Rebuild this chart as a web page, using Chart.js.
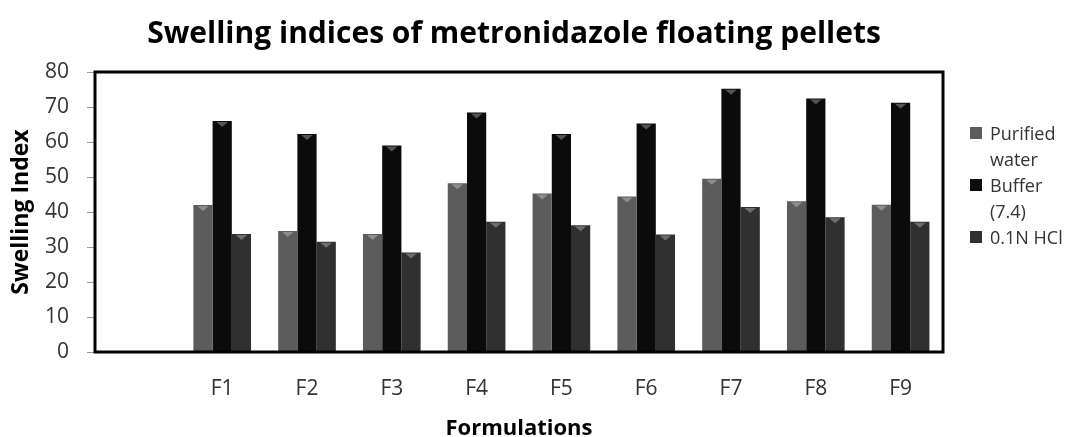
<!DOCTYPE html>
<html>
<head>
<meta charset="utf-8">
<script src="https://cdn.jsdelivr.net/npm/chart.js@4.4.0/dist/chart.umd.min.js"></script>
<style>
  html, body { margin: 0; padding: 0; background: #fff; }
  #wrap { position: relative; width: 1088px; height: 437px; }
  #leyenda { position: absolute; left: 970px; top: 120px; font-family: 'Open Sans', sans-serif; font-size: 18px; line-height: 26px; color: #333; }
  #leyenda div { position: relative; padding-left: 20px; }
  #leyenda span.caja { position: absolute; left: 0; top: 7px; width: 12px; height: 12px; }
</style>
</head>
<body>
<div id="wrap"><canvas id="grafico"></canvas><div id="leyenda"></div></div>
<script>
const categories = ['', 'F1', 'F2', 'F3', 'F4', 'F5', 'F6', 'F7', 'F8', 'F9'];
const purifiedWater = [null, 42, 34.6, 33.7, 48.2, 45.3, 44.4, 49.5, 43.1, 42.1];
const buffer74 = [null, 66, 62.3, 59, 68.4, 62.3, 65.3, 75.2, 72.4, 71.2];
const hcl01N = [null, 33.7, 31.5, 28.4, 37.2, 36.2, 33.6, 41.4, 38.5, 37.2];
const seriesNames = [['Purified', 'water'], ['Buffer', '(7.4)'], ['0.1N HCl']];
const yTicks = [0, 10, 20, 30, 40, 50, 60, 70, 80];
const titulo = 'Swelling indices of metronidazole floating pellets';

const colores = ['#5c5c5c', '#0b0b0b', '#303030'];

// titulo centrado sobre el area de trazado
const tituloPlugin = {
  id: 'tituloArea',
  afterDraw(chart) {
    const { ctx, chartArea: a } = chart;
    ctx.save();
    ctx.font = 'bold 30px "Open Sans"';
    ctx.fillStyle = '#000';
    ctx.textAlign = 'center';
    ctx.textBaseline = 'middle';
    ctx.fillText(titulo, (a.left + a.right) / 2 - 5, 34);
    ctx.restore();
  }
};

// borde negro alrededor del area de trazado
const bordePlugin = {
  id: 'borde',
  afterDatasetsDraw(chart) {
    const { ctx, chartArea: a } = chart;
    ctx.save();
    ctx.strokeStyle = '#000';
    ctx.lineWidth = 3;
    ctx.strokeRect(a.left, a.top, a.right - a.left, a.bottom - a.top);
    ctx.restore();
  }
};

// pequeño triangulo claro arriba de cada barra
const brilloPlugin = {
  id: 'brillo',
  afterDatasetsDraw(chart) {
    const ctx = chart.ctx;
    ctx.save();
    chart.data.datasets.forEach((ds, i) => {
      chart.getDatasetMeta(i).data.forEach((bar, j) => {
        if (ds.data[j] == null) return;
        const w = bar.width;
        ctx.fillStyle = 'rgba(255,255,255,0.3)';
        ctx.beginPath();
        ctx.moveTo(bar.x - w * 0.3, bar.y + 1);
        ctx.lineTo(bar.x + w * 0.3, bar.y + 1);
        ctx.lineTo(bar.x, bar.y + 6);
        ctx.closePath();
        ctx.fill();
      });
    });
    ctx.restore();
  }
};

// leyenda en html
const leyenda = document.querySelector('#leyenda');
seriesNames.forEach((lineas, i) => {
  const item = document.createElement('div');
  const caja = document.createElement('span');
  caja.className = 'caja';
  caja.style.background = colores[i];
  item.appendChild(caja);
  lineas.forEach((t, k) => {
    if (k > 0) item.appendChild(document.createElement('br'));
    item.appendChild(document.createTextNode(t));
  });
  leyenda.appendChild(item);
});

const ctx = document.querySelector('#grafico').getContext('2d');

const grafico = new Chart(ctx, {
  type: 'bar',
  data: {
    labels: categories,
    datasets: [
      { label: 'Purified water', data: purifiedWater, backgroundColor: colores[0] },
      { label: 'Buffer (7.4)', data: buffer74, backgroundColor: colores[1] },
      { label: '0.1N HCl', data: hcl01N, backgroundColor: colores[2] }
    ]
  },
  options: {
    responsive: true,
    maintainAspectRatio: false,
    animation: false,
    categoryPercentage: 0.68,
    barPercentage: 1.0,
    layout: { padding: { top: 72, left: 0, right: 145, bottom: 0 } },
    plugins: {
      title: { display: false },
      legend: { display: false },
      tooltip: { enabled: false }
    },
    scales: {
      x: {
        grid: { display: false },
        border: { display: false },
        ticks: { color: '#333', font: { family: 'Open Sans', size: 21 }, padding: 16 },
        title: {
          display: true,
          text: 'Formulations',
          color: '#000',
          font: { family: 'Open Sans', size: 22, weight: 'bold' },
          padding: { top: 0, bottom: -5 }
        },
        afterFit: (s) => { s.height = 85; }
      },
      y: {
        min: 0,
        max: 80,
        afterBuildTicks: (axis) => { axis.ticks = yTicks.map(v => ({ value: v })); },
        grid: { display: true, drawOnChartArea: false, tickLength: 8, color: '#999' },
        border: { display: false },
        ticks: { color: '#333', font: { family: 'Open Sans', size: 21 }, padding: 18 },
        title: {
          display: true,
          text: 'Swelling Index',
          color: '#000',
          font: { family: 'Open Sans', size: 23, weight: 'bold' },
          padding: { top: 8, bottom: 0 }
        },
        afterFit: (s) => { s.width = 95; }
      }
    }
  },
  plugins: [bordePlugin, brilloPlugin, tituloPlugin]
});
</script>
</body>
</html>
